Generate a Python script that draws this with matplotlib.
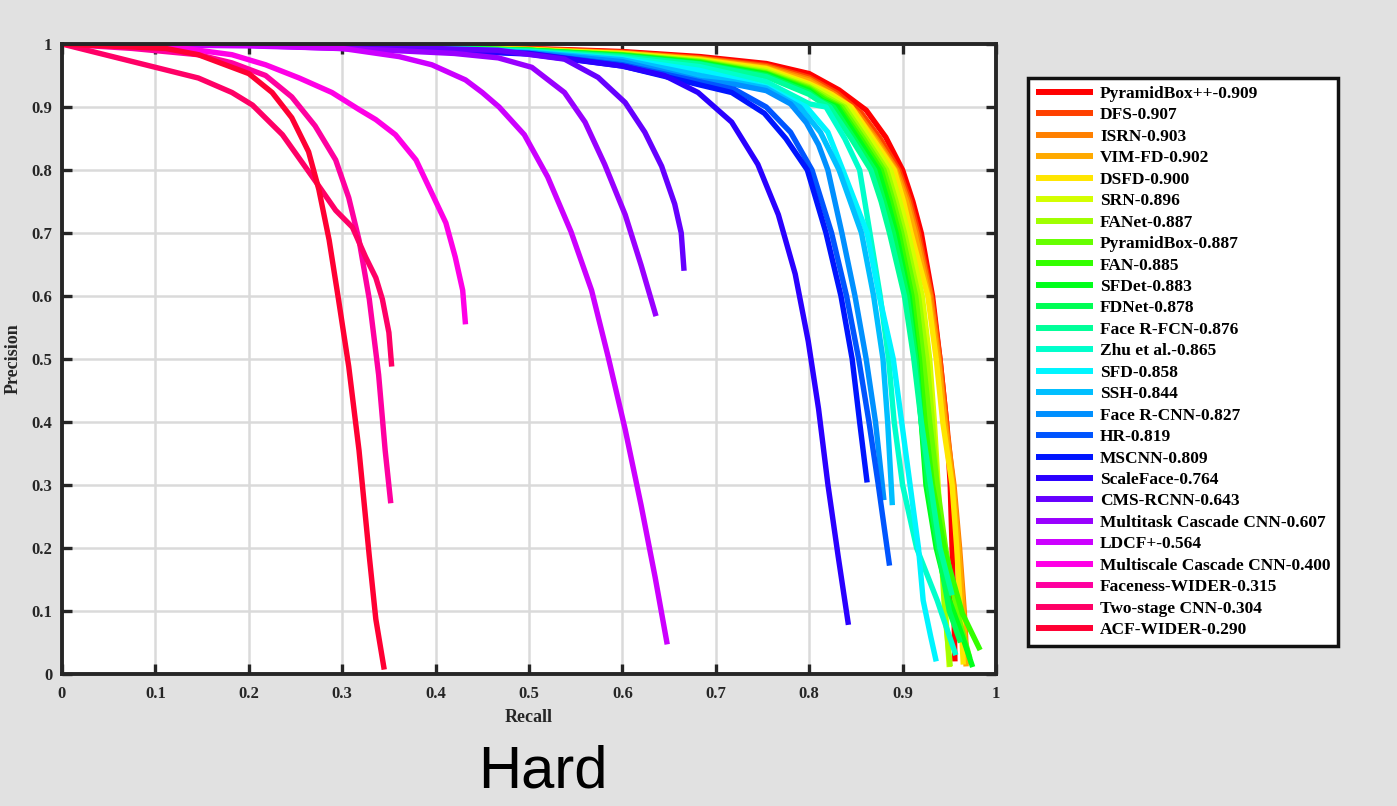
import matplotlib
matplotlib.use("Agg")
import matplotlib.pyplot as plt

names = ["PyramidBox++-0.909", "DFS-0.907", "ISRN-0.903", "VIM-FD-0.902", "DSFD-0.900",
         "SRN-0.896", "FANet-0.887", "PyramidBox-0.887", "FAN-0.885", "SFDet-0.883",
         "FDNet-0.878", "Face R-FCN-0.876", "Zhu et al.-0.865", "SFD-0.858", "SSH-0.844",
         "Face R-CNN-0.827", "HR-0.819", "MSCNN-0.809", "ScaleFace-0.764", "CMS-RCNN-0.643",
         "Multitask Cascade CNN-0.607", "LDCF+-0.564", "Multiscale Cascade CNN-0.400",
         "Faceness-WIDER-0.315", "Two-stage CNN-0.304", "ACF-WIDER-0.290"]

colors = ["#ff0000", "#ff4000", "#ff8000", "#ffaa00", "#ffe600",
          "#d4ff00", "#a0ff00", "#66ff00", "#33ff00", "#00ff1a",
          "#00ff55", "#00ff99", "#00ffcc", "#00f5ff", "#00bfff",
          "#0090ff", "#0055ff", "#0015ff", "#2a00ff", "#6600ff",
          "#9900ff", "#cc00ff", "#ff00e6", "#ff00a0", "#ff0066", "#ff0033"]

recall = [
    [0, 0.3, 0.5, 0.6, 0.683, 0.754, 0.8, 0.832, 0.861, 0.882, 0.9, 0.911, 0.92, 0.932, 0.94, 0.947, 0.951, 0.953, 0.955, 0.956],
    [0, 0.3, 0.5, 0.6, 0.683, 0.754, 0.8, 0.83, 0.856, 0.876, 0.896, 0.908, 0.917, 0.931, 0.94, 0.947, 0.954, 0.959, 0.963, 0.967],
    [0, 0.3, 0.5, 0.6, 0.683, 0.754, 0.8, 0.828, 0.852, 0.872, 0.894, 0.906, 0.915, 0.93, 0.939, 0.946, 0.955, 0.961, 0.966, 0.969],
    [0, 0.3, 0.5, 0.6, 0.683, 0.754, 0.8, 0.826, 0.849, 0.87, 0.892, 0.904, 0.913, 0.928, 0.938, 0.945, 0.954, 0.96, 0.965, 0.968],
    [0, 0.3, 0.5, 0.6, 0.683, 0.754, 0.8, 0.824, 0.845, 0.868, 0.891, 0.901, 0.909, 0.927, 0.936, 0.943, 0.953, 0.958, 0.962, 0.965],
    [0, 0.3, 0.5, 0.6, 0.683, 0.754, 0.8, 0.822, 0.842, 0.865, 0.887, 0.897, 0.906, 0.921, 0.929, 0.934, 0.938, 0.942, 0.946, 0.95],
    [0, 0.3, 0.5, 0.6, 0.683, 0.754, 0.8, 0.82, 0.838, 0.861, 0.883, 0.893, 0.902, 0.917, 0.926, 0.932, 0.937, 0.941, 0.945, 0.951],
    [0, 0.3, 0.5, 0.6, 0.683, 0.754, 0.8, 0.818, 0.835, 0.858, 0.88, 0.89, 0.899, 0.914, 0.922, 0.929, 0.937, 0.946, 0.958, 0.972],
    [0, 0.3, 0.5, 0.6, 0.683, 0.754, 0.8, 0.816, 0.832, 0.855, 0.877, 0.887, 0.896, 0.91, 0.918, 0.924, 0.932, 0.946, 0.964, 0.983],
    [0, 0.3, 0.5, 0.6, 0.683, 0.754, 0.8, 0.814, 0.83, 0.852, 0.874, 0.884, 0.893, 0.907, 0.915, 0.92, 0.925, 0.936, 0.95, 0.964, 0.975],
    [0, 0.3, 0.5, 0.6, 0.683, 0.754, 0.8, 0.812, 0.826, 0.848, 0.87, 0.88, 0.89, 0.905, 0.914, 0.92, 0.927, 0.938, 0.95, 0.962],
    [0, 0.3, 0.5, 0.6, 0.683, 0.754, 0.8, 0.81, 0.822, 0.845, 0.866, 0.877, 0.886, 0.902, 0.912, 0.92, 0.93, 0.94, 0.953],
    [0, 0.3, 0.5, 0.6, 0.683, 0.754, 0.8, 0.818, 0.838, 0.854, 0.865, 0.876, 0.885, 0.891, 0.9, 0.915, 0.937, 0.957],
    [0, 0.3, 0.5, 0.6, 0.683, 0.754, 0.797, 0.82, 0.836, 0.862, 0.875, 0.89, 0.899, 0.908, 0.917, 0.922, 0.93, 0.936],
    [0, 0.3, 0.5, 0.6, 0.683, 0.754, 0.79, 0.812, 0.832, 0.856, 0.869, 0.879, 0.884, 0.889],
    [0, 0.3, 0.5, 0.6, 0.683, 0.72, 0.754, 0.78, 0.797, 0.81, 0.82, 0.835, 0.849, 0.861, 0.871, 0.88],
    [0, 0.3, 0.5, 0.6, 0.683, 0.72, 0.754, 0.78, 0.803, 0.824, 0.84, 0.853, 0.864, 0.874, 0.886],
    [0, 0.3, 0.5, 0.6, 0.683, 0.717, 0.752, 0.775, 0.798, 0.818, 0.834, 0.846, 0.854, 0.862],
    [0, 0.3, 0.5, 0.6, 0.645, 0.681, 0.717, 0.745, 0.767, 0.785, 0.799, 0.81, 0.82, 0.831, 0.842],
    [0, 0.3, 0.467, 0.538, 0.574, 0.603, 0.624, 0.642, 0.656, 0.663, 0.666],
    [0, 0.2, 0.35, 0.42, 0.467, 0.503, 0.538, 0.56, 0.581, 0.603, 0.62, 0.636],
    [0, 0.2, 0.3, 0.361, 0.396, 0.432, 0.45, 0.468, 0.495, 0.52, 0.545, 0.567, 0.585, 0.603, 0.62, 0.635, 0.648],
    [0, 0.111, 0.182, 0.218, 0.254, 0.289, 0.318, 0.336, 0.357, 0.379, 0.396, 0.411, 0.421, 0.429, 0.432],
    [0, 0.075, 0.146, 0.182, 0.218, 0.246, 0.271, 0.293, 0.307, 0.318, 0.329, 0.339, 0.346, 0.352],
    [0, 0.146, 0.182, 0.204, 0.236, 0.271, 0.293, 0.311, 0.325, 0.336, 0.343, 0.35, 0.353],
    [0, 0.111, 0.146, 0.2, 0.225, 0.246, 0.264, 0.275, 0.286, 0.296, 0.307, 0.318, 0.329, 0.336, 0.345],
]

precision = [
    [1, 0.998, 0.993, 0.988, 0.98, 0.969, 0.953, 0.927, 0.895, 0.852, 0.8, 0.75, 0.7, 0.6, 0.5, 0.4, 0.3, 0.2, 0.1, 0.02],
    [1, 0.998, 0.992, 0.987, 0.978, 0.966, 0.947, 0.922, 0.89, 0.85, 0.8, 0.75, 0.7, 0.6, 0.5, 0.4, 0.3, 0.2, 0.1, 0.02],
    [1, 0.998, 0.992, 0.986, 0.977, 0.964, 0.944, 0.92, 0.89, 0.85, 0.8, 0.75, 0.7, 0.6, 0.5, 0.4, 0.3, 0.2, 0.1, 0.015],
    [1, 0.998, 0.991, 0.985, 0.976, 0.962, 0.941, 0.918, 0.89, 0.85, 0.8, 0.75, 0.7, 0.6, 0.5, 0.4, 0.3, 0.2, 0.1, 0.012],
    [1, 0.998, 0.991, 0.985, 0.975, 0.961, 0.937, 0.92, 0.9, 0.85, 0.8, 0.75, 0.7, 0.6, 0.5, 0.4, 0.3, 0.2, 0.1, 0.015],
    [1, 0.998, 0.991, 0.984, 0.974, 0.958, 0.935, 0.918, 0.9, 0.85, 0.8, 0.75, 0.7, 0.6, 0.5, 0.4, 0.3, 0.2, 0.1, 0.011],
    [1, 0.998, 0.99, 0.983, 0.973, 0.956, 0.932, 0.915, 0.9, 0.85, 0.8, 0.75, 0.7, 0.6, 0.5, 0.4, 0.3, 0.2, 0.1, 0.012],
    [1, 0.998, 0.99, 0.983, 0.972, 0.954, 0.93, 0.913, 0.9, 0.85, 0.8, 0.75, 0.7, 0.6, 0.5, 0.4, 0.3, 0.2, 0.1, 0.025],
    [1, 0.998, 0.99, 0.982, 0.971, 0.953, 0.928, 0.912, 0.9, 0.85, 0.8, 0.75, 0.7, 0.6, 0.5, 0.4, 0.3, 0.19, 0.096, 0.038],
    [1, 0.998, 0.99, 0.982, 0.97, 0.952, 0.926, 0.91, 0.9, 0.85, 0.8, 0.75, 0.7, 0.6, 0.5, 0.4, 0.3, 0.2, 0.117, 0.06, 0.011],
    [1, 0.998, 0.99, 0.981, 0.969, 0.95, 0.923, 0.91, 0.9, 0.85, 0.8, 0.75, 0.7, 0.6, 0.5, 0.4, 0.3, 0.2, 0.1, 0.05],
    [1, 0.998, 0.989, 0.98, 0.968, 0.948, 0.92, 0.91, 0.9, 0.85, 0.8, 0.75, 0.7, 0.6, 0.5, 0.4, 0.3, 0.2, 0.125],
    [1, 0.998, 0.988, 0.978, 0.964, 0.94, 0.905, 0.9, 0.85, 0.8, 0.7, 0.6, 0.5, 0.4, 0.3, 0.2, 0.117, 0.03],
    [1, 0.997, 0.987, 0.976, 0.958, 0.932, 0.9, 0.86, 0.8, 0.7, 0.6, 0.5, 0.4, 0.3, 0.2, 0.117, 0.06, 0.02],
    [1, 0.997, 0.987, 0.975, 0.95, 0.93, 0.9, 0.86, 0.8, 0.7, 0.6, 0.5, 0.4, 0.268],
    [1, 0.997, 0.986, 0.972, 0.942, 0.936, 0.926, 0.905, 0.875, 0.84, 0.8, 0.7, 0.6, 0.5, 0.4, 0.276],
    [1, 0.997, 0.985, 0.967, 0.94, 0.928, 0.9, 0.86, 0.8, 0.7, 0.6, 0.5, 0.4, 0.3, 0.172],
    [1, 0.997, 0.984, 0.965, 0.935, 0.923, 0.89, 0.85, 0.8, 0.7, 0.6, 0.5, 0.4, 0.304],
    [1, 0.997, 0.985, 0.965, 0.95, 0.923, 0.876, 0.809, 0.729, 0.635, 0.528, 0.421, 0.301, 0.187, 0.078],
    [1, 0.997, 0.99, 0.976, 0.947, 0.907, 0.86, 0.806, 0.746, 0.7, 0.64],
    [1, 0.998, 0.99, 0.985, 0.978, 0.963, 0.923, 0.876, 0.809, 0.729, 0.649, 0.568],
    [1, 0.997, 0.993, 0.98, 0.967, 0.943, 0.923, 0.9, 0.856, 0.789, 0.702, 0.609, 0.502, 0.388, 0.268, 0.154, 0.047],
    [1, 0.997, 0.983, 0.967, 0.946, 0.923, 0.896, 0.88, 0.856, 0.816, 0.763, 0.716, 0.662, 0.609, 0.555],
    [1, 0.993, 0.983, 0.97, 0.95, 0.916, 0.87, 0.816, 0.756, 0.689, 0.595, 0.475, 0.355, 0.271],
    [1, 0.946, 0.923, 0.903, 0.856, 0.783, 0.736, 0.709, 0.662, 0.629, 0.595, 0.542, 0.488],
    [1, 0.993, 0.983, 0.953, 0.923, 0.883, 0.829, 0.769, 0.689, 0.595, 0.488, 0.355, 0.187, 0.087, 0.007],
]

ticks = [0, 0.1, 0.2, 0.3, 0.4, 0.5, 0.6, 0.7, 0.8, 0.9, 1]
tick_labels = ["0", "0.1", "0.2", "0.3", "0.4", "0.5", "0.6", "0.7", "0.8", "0.9", "1"]

serif = "Liberation Serif"
W, H = 1397, 806
fig = plt.figure(figsize=(W / 100, H / 100), dpi=100, facecolor="#e1e1e1")
ax = fig.add_axes([62 / W, 132 / H, 934 / W, 630 / H])
ax.set_facecolor("white")

for r, p, c, n in zip(recall, precision, colors, names):
    ax.plot(r, p, color=c, lw=3.9, label=n, solid_capstyle="butt")

ax.set_xlim(0, 1)
ax.set_ylim(0, 1)
ax.set_xticks(ticks)
ax.set_yticks(ticks)
ax.set_xticklabels(tick_labels, fontfamily=serif, fontweight="bold", fontsize=12)
ax.set_yticklabels(tick_labels, fontfamily=serif, fontweight="bold", fontsize=12)
ax.tick_params(axis="x", pad=9)
ax.tick_params(axis="y", pad=7)
ax.tick_params(direction="in", length=7, width=2.4, color="#262626", labelcolor="#262626",
               top=True, right=True)
ax.grid(True, color="#dadada", lw=1.8)
ax.set_axisbelow(True)
for s in ax.spines.values():
    s.set_linewidth(2.8)
    s.set_color("#262626")

ax.set_xlabel("Recall", fontfamily=serif, fontweight="bold", fontsize=13, color="#262626", labelpad=5)
ax.set_ylabel("Precision", fontfamily=serif, fontweight="bold", fontsize=13, color="#262626", labelpad=7)

leg = fig.legend(loc="upper left", bbox_to_anchor=(1028 / W, 1 - 78 / H), borderaxespad=0,
                 prop={"family": serif, "weight": "bold", "size": 12.5}, frameon=True,
                 fancybox=False, edgecolor="#111111", framealpha=1,
                 handlelength=3.3, handletextpad=0.4, labelspacing=0.305, borderpad=0.45)
leg.get_frame().set_linewidth(2.5)
for line in leg.get_lines():
    line.set_linewidth(4.3)

fig.text(543 / W, 1 - 772 / H, "Hard", fontfamily="Liberation Sans", fontsize=43,
         ha="center", va="center", color="black")

fig.savefig("out.png", dpi=100, facecolor=fig.get_facecolor())
